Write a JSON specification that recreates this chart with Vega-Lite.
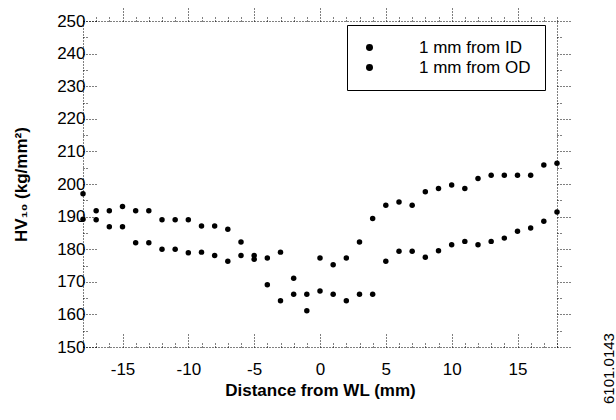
{
  "$schema": "https://vega.github.io/schema/vega-lite/v6.json",
  "width": 474,
  "height": 326,
  "autosize": "none",
  "padding": {"left": 83, "top": 21, "right": 59, "bottom": 73},
  "background": "white",
  "title": {"text": "6101.0143", "orient": "right", "anchor": "end", "frame": "group", "angle": -90, "align": "left", "baseline": "middle", "dx": -57, "font": "Liberation Sans", "fontSize": 15, "fontWeight": "normal", "color": "black", "offset": 22},
  "config": {"view": {"stroke": null}, "font": "Liberation Sans"},
  "data": {"values": [
    {"x": -18, "hv": 189.2, "series": "1 mm from ID"},
    {"x": -17, "hv": 189.0, "series": "1 mm from ID"},
    {"x": -16, "hv": 186.9, "series": "1 mm from ID"},
    {"x": -15, "hv": 186.9, "series": "1 mm from ID"},
    {"x": -14, "hv": 182.0, "series": "1 mm from ID"},
    {"x": -13, "hv": 182.0, "series": "1 mm from ID"},
    {"x": -12, "hv": 180.0, "series": "1 mm from ID"},
    {"x": -11, "hv": 180.0, "series": "1 mm from ID"},
    {"x": -10, "hv": 178.9, "series": "1 mm from ID"},
    {"x": -9, "hv": 179.1, "series": "1 mm from ID"},
    {"x": -8, "hv": 178.1, "series": "1 mm from ID"},
    {"x": -7, "hv": 176.3, "series": "1 mm from ID"},
    {"x": -6, "hv": 178.1, "series": "1 mm from ID"},
    {"x": -5, "hv": 176.9, "series": "1 mm from ID"},
    {"x": -4, "hv": 169.1, "series": "1 mm from ID"},
    {"x": -3, "hv": 164.2, "series": "1 mm from ID"},
    {"x": -2, "hv": 166.2, "series": "1 mm from ID"},
    {"x": -1, "hv": 161.1, "series": "1 mm from ID"},
    {"x": 0, "hv": 177.3, "series": "1 mm from ID"},
    {"x": 1, "hv": 175.2, "series": "1 mm from ID"},
    {"x": 2, "hv": 177.3, "series": "1 mm from ID"},
    {"x": 3, "hv": 182.2, "series": "1 mm from ID"},
    {"x": 4, "hv": 189.4, "series": "1 mm from ID"},
    {"x": 5, "hv": 193.5, "series": "1 mm from ID"},
    {"x": 6, "hv": 194.5, "series": "1 mm from ID"},
    {"x": 7, "hv": 193.5, "series": "1 mm from ID"},
    {"x": 8, "hv": 197.6, "series": "1 mm from ID"},
    {"x": 9, "hv": 198.6, "series": "1 mm from ID"},
    {"x": 10, "hv": 199.7, "series": "1 mm from ID"},
    {"x": 11, "hv": 198.6, "series": "1 mm from ID"},
    {"x": 12, "hv": 201.7, "series": "1 mm from ID"},
    {"x": 13, "hv": 202.7, "series": "1 mm from ID"},
    {"x": 14, "hv": 202.7, "series": "1 mm from ID"},
    {"x": 15, "hv": 202.7, "series": "1 mm from ID"},
    {"x": 16, "hv": 202.7, "series": "1 mm from ID"},
    {"x": 17, "hv": 205.8, "series": "1 mm from ID"},
    {"x": 18, "hv": 206.4, "series": "1 mm from ID"},
    {"x": -18, "hv": 197.0, "series": "1 mm from OD"},
    {"x": -17, "hv": 191.8, "series": "1 mm from OD"},
    {"x": -16, "hv": 191.8, "series": "1 mm from OD"},
    {"x": -15, "hv": 193.1, "series": "1 mm from OD"},
    {"x": -14, "hv": 191.8, "series": "1 mm from OD"},
    {"x": -13, "hv": 191.8, "series": "1 mm from OD"},
    {"x": -12, "hv": 189.0, "series": "1 mm from OD"},
    {"x": -11, "hv": 189.0, "series": "1 mm from OD"},
    {"x": -10, "hv": 189.0, "series": "1 mm from OD"},
    {"x": -9, "hv": 187.1, "series": "1 mm from OD"},
    {"x": -8, "hv": 187.1, "series": "1 mm from OD"},
    {"x": -7, "hv": 186.1, "series": "1 mm from OD"},
    {"x": -6, "hv": 182.2, "series": "1 mm from OD"},
    {"x": -5, "hv": 178.1, "series": "1 mm from OD"},
    {"x": -4, "hv": 177.3, "series": "1 mm from OD"},
    {"x": -3, "hv": 179.1, "series": "1 mm from OD"},
    {"x": -2, "hv": 171.1, "series": "1 mm from OD"},
    {"x": -1, "hv": 166.2, "series": "1 mm from OD"},
    {"x": 0, "hv": 167.2, "series": "1 mm from OD"},
    {"x": 1, "hv": 166.2, "series": "1 mm from OD"},
    {"x": 2, "hv": 164.2, "series": "1 mm from OD"},
    {"x": 3, "hv": 166.2, "series": "1 mm from OD"},
    {"x": 4, "hv": 166.2, "series": "1 mm from OD"},
    {"x": 5, "hv": 176.3, "series": "1 mm from OD"},
    {"x": 6, "hv": 179.4, "series": "1 mm from OD"},
    {"x": 7, "hv": 179.4, "series": "1 mm from OD"},
    {"x": 8, "hv": 177.5, "series": "1 mm from OD"},
    {"x": 9, "hv": 179.5, "series": "1 mm from OD"},
    {"x": 10, "hv": 181.4, "series": "1 mm from OD"},
    {"x": 11, "hv": 182.4, "series": "1 mm from OD"},
    {"x": 12, "hv": 181.4, "series": "1 mm from OD"},
    {"x": 13, "hv": 182.4, "series": "1 mm from OD"},
    {"x": 14, "hv": 183.4, "series": "1 mm from OD"},
    {"x": 15, "hv": 185.5, "series": "1 mm from OD"},
    {"x": 16, "hv": 186.5, "series": "1 mm from OD"},
    {"x": 17, "hv": 188.6, "series": "1 mm from OD"},
    {"x": 18, "hv": 191.4, "series": "1 mm from OD"}
  ]},
  "layer": [
    {
      "mark": {"type": "point", "filled": true, "shape": "circle", "size": 30, "opacity": 1, "clip": false},
      "encoding": {
        "x": {"field": "x", "type": "quantitative",
          "scale": {"domain": [-18, 18], "nice": false, "zero": false},
          "axis": {
            "orient": "bottom",
            "values": [-18,-17,-16,-15,-14,-13,-12,-11,-10,-9,-8,-7,-6,-5,-4,-3,-2,-1,0,1,2,3,4,5,6,7,8,9,10,11,12,13,14,15,16,17,18],
            "labelExpr": "datum.value % 5 === 0 ? '' + datum.value : ''",
            "tickSize": {"condition": {"test": "datum.value % 5 === 0", "value": -13}, "value": -5},
            "tickDash": [1, 2], "tickColor": "black", "tickWidth": 1,
            "domainDash": [1, 2], "domainColor": "black", "domainWidth": 1,
            "grid": false,
            "labelFont": "Liberation Sans", "labelFontSize": 17, "labelColor": "black", "labelPadding": 27,
            "title": "Distance from WL (mm)", "titleFont": "Liberation Sans", "titleFontSize": 17, "titleFontWeight": "bold", "titleColor": "black", "titlePadding": 5
          }},
        "y": {"field": "hv", "type": "quantitative",
          "scale": {"domain": [150, 250], "nice": false, "zero": false},
          "axis": {
            "orient": "left",
            "values": [150,155,160,165,170,175,180,185,190,195,200,205,210,215,220,225,230,235,240,245,250],
            "labelExpr": "datum.value % 10 === 0 ? '' + datum.value : ''",
            "tickSize": {"condition": {"test": "datum.value % 10 === 0", "value": -14}, "value": -5},
            "tickDash": [1, 2], "tickColor": "black", "tickWidth": 1,
            "domainDash": [1, 2], "domainColor": "black", "domainWidth": 1,
            "grid": false,
            "labelFont": "Liberation Sans", "labelFontSize": 17, "labelColor": "black", "labelPadding": 12,
            "title": "HV₁₀ (kg/mm²)", "titleFont": "Liberation Sans", "titleFontSize": 17, "titleFontWeight": "bold", "titleColor": "black", "titlePadding": 26
          }},
        "color": {"field": "series", "type": "nominal",
          "scale": {"range": ["black", "black"]},
          "legend": {
            "title": null, "orient": "none", "legendX": 264, "legendY": 4,
            "symbolType": "circle", "symbolSize": 30, "symbolFillColor": "black", "symbolStrokeColor": "black",
            "labelFont": "Liberation Sans", "labelFontSize": 17, "labelColor": "black", "labelOffset": 41,
            "rowPadding": 2, "strokeColor": "black", "padding": 14
          }}
      }
    },
    {
      "mark": {"type": "point", "opacity": 0},
      "encoding": {
        "x": {"field": "x", "type": "quantitative",
          "axis": {
            "orient": "top",
            "values": [-18,-17,-16,-15,-14,-13,-12,-11,-10,-9,-8,-7,-6,-5,-4,-3,-2,-1,0,1,2,3,4,5,6,7,8,9,10,11,12,13,14,15,16,17,18],
            "labels": false, "title": null, "grid": false,
            "tickSize": {"condition": {"test": "datum.value % 5 === 0", "value": 14}, "value": 4},
            "tickDash": [1, 2], "tickColor": "black",
            "domainDash": [1, 2], "domainColor": "black"
          }},
        "y": {"field": "hv", "type": "quantitative",
          "axis": {
            "orient": "right",
            "values": [150,155,160,165,170,175,180,185,190,195,200,205,210,215,220,225,230,235,240,245,250],
            "labels": false, "title": null, "grid": false,
            "tickSize": {"condition": {"test": "datum.value % 10 === 0", "value": 14}, "value": 4},
            "tickDash": [1, 2], "tickColor": "black",
            "domainDash": [1, 2], "domainColor": "black"
          }}
      }
    }
  ],
  "resolve": {"axis": {"x": "independent", "y": "independent"}}
}
